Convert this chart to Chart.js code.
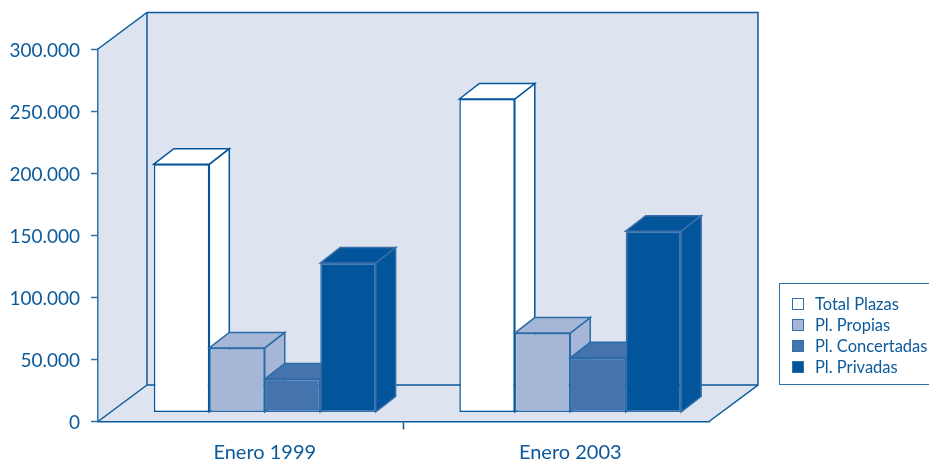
<!DOCTYPE html>
<html lang="es">
<head>
<meta charset="utf-8">
<title>Plazas</title>
<script src="https://cdn.jsdelivr.net/npm/chart.js@4/dist/chart.umd.min.js"></script>
<style>
    html, body { margin: 0; padding: 0; background: #fff; overflow: hidden; }
    #wrap { position: relative; width: 929px; height: 462px; overflow: hidden; }
    #legend {
        position: absolute; left: 779px; top: 283px; width: 160px; height: 100px;
        border: 1.5px solid #2f72aa; box-sizing: content-box;
        font-family: Lato, sans-serif; font-size: 16.5px; color: #0b5a9c;
    }
    #legend div { position: absolute; left: 35px; white-space: nowrap; line-height: 20px; }
    #legend span { position: absolute; left: -23px; top: 4px; width: 10px; height: 10px; border: 1.5px solid #2f72aa; }
</style>
</head>
<body>
<div id="wrap">
    <canvas id="chart" width="929" height="462"></canvas>
    <div id="legend"></div>
</div>
<script>
const categories = ['Enero 1999', 'Enero 2003'];
const seriesNames = ['Total Plazas', 'Pl. Propias', 'Pl. Concertadas', 'Pl. Privadas'];
const totalPlazas = [200000, 252500];
const plPropias = [52000, 64000];
const plConcertadas = [27000, 44000];
const plPrivadas = [120400, 146000];

const fills = ['#ffffff', '#a6b6d6', '#4573ae', '#02559b'];
const borders = ['#02559b', '#2a6ca8', '#2a6ca8', '#3a70aa'];
const lineColor = '#0b5a9c';
const wallColor = '#dde3ef';

// profundidad de la caja y de las barras
const boxDepth = { x: 49, y: -36.5 };
const barDepth = { x: 20, y: -15.5 };
const barShift = { x: 14, y: -9 };

function poly(ctx, pts, fill, stroke, width) {
    ctx.beginPath();
    pts.forEach((p, i) => i ? ctx.lineTo(p[0], p[1]) : ctx.moveTo(p[0], p[1]));
    ctx.closePath();
    if (fill) { ctx.fillStyle = fill; ctx.fill(); }
    if (stroke) { ctx.strokeStyle = stroke; ctx.lineWidth = width; ctx.stroke(); }
}

const boxPlugin = {
    id: 'box3d',
    // paredes y suelo
    beforeDraw(chart) {
        const { ctx, chartArea: a } = chart;
        const dx = boxDepth.x, dy = boxDepth.y;
        ctx.save();
        poly(ctx, [[a.left, a.top], [a.left + dx, a.top + dy], [a.right + dx, a.top + dy], [a.right + dx, a.bottom + dy], [a.right, a.bottom], [a.left, a.bottom]], wallColor);
        ctx.lineWidth = 1.5;
        ctx.strokeStyle = lineColor;
        ctx.beginPath();
        ctx.moveTo(a.left, a.top); ctx.lineTo(a.left + dx, a.top + dy);
        ctx.lineTo(a.right + dx, a.top + dy); ctx.lineTo(a.right + dx, a.bottom + dy);
        ctx.lineTo(a.right, a.bottom);
        ctx.moveTo(a.left + dx, a.top + dy); ctx.lineTo(a.left + dx, a.bottom + dy);
        ctx.lineTo(a.right + dx, a.bottom + dy);
        ctx.moveTo(a.left + dx, a.bottom + dy); ctx.lineTo(a.left, a.bottom);
        ctx.stroke();
        ctx.restore();
    },
    // las series se pintan de izquierda a derecha para que se tapen bien
    beforeDatasetsDraw(chart) {
        const ctx = chart.ctx;
        const dx = barDepth.x, dy = barDepth.y;
        seriesValues.forEach((values, i) => {
            const meta = chart.getDatasetMeta(i);
            ctx.save();
            ctx.translate(barShift.x, barShift.y);
            meta.data.forEach(bar => {
                const { x, y, base, width } = bar.getProps(['x', 'y', 'base', 'width'], true);
                const l = x - width / 2, r = x + width / 2;
                poly(ctx, [[r, y], [r + dx, y + dy], [r + dx, base + dy], [r, base]], fills[i], borders[i], 1.5);
                poly(ctx, [[l, y], [l + dx, y + dy], [r + dx, y + dy], [r, y]], fills[i], borders[i], 1.5);
            });
            meta.controller.draw();
            ctx.restore();
        });
        return false;
    }
};

const seriesValues = [totalPlazas, plPropias, plConcertadas, plPrivadas];

new Chart(document.getElementById('chart').getContext('2d'), {
    type: 'bar',
    data: {
        labels: categories,
        datasets: seriesValues.map((values, i) => ({
            label: seriesNames[i],
            data: values,
            backgroundColor: fills[i],
            borderColor: borders[i],
            borderWidth: 1.5,
            borderSkipped: false,
            categoryPercentage: 0.726,
            barPercentage: 1
        }))
    },
    options: {
        responsive: false,
        animation: false,
        layout: { autoPadding: false, padding: { left: 0, right: 220, top: 49, bottom: 0 } },
        plugins: { legend: { display: false }, tooltip: { enabled: false } },
        scales: {
            x: {
                afterFit(scale) { scale.height = 40.5; },
                border: { color: lineColor, width: 1.5 },
                grid: {
                    offset: true,
                    drawOnChartArea: false,
                    tickLength: 8,
                    tickWidth: 1.5,
                    tickColor: ctx => ctx.index === 1 ? lineColor : 'rgba(0,0,0,0)'
                },
                ticks: {
                    maxRotation: 0,
                    padding: 11,
                    labelOffset: 14,
                    color: lineColor,
                    font: { family: 'Lato', size: 20 }
                }
            },
            y: {
                min: 0,
                max: 300000,
                afterFit(scale) { scale.width = 98; },
                border: { color: '#2f72aa', width: 1.5 },
                grid: { drawOnChartArea: false, tickLength: 7, tickWidth: 1.5, tickColor: '#2f72aa' },
                ticks: {
                    stepSize: 50000,
                    padding: 11,
                    labelOffset: 1.5,
                    color: lineColor,
                    font: { family: 'Lato', size: 19 },
                    callback: v => v === 0 ? '0' : (v / 1000) + '.000'
                }
            }
        }
    },
    plugins: [boxPlugin]
});

// leyenda
const legend = document.getElementById('legend');
seriesNames.forEach((name, i) => {
    const row = document.createElement('div');
    row.style.top = (10 + i * 21) + 'px';
    row.textContent = name;
    const swatch = document.createElement('span');
    swatch.style.background = fills[i];
    row.appendChild(swatch);
    legend.appendChild(row);
});
</script>
</body>
</html>
